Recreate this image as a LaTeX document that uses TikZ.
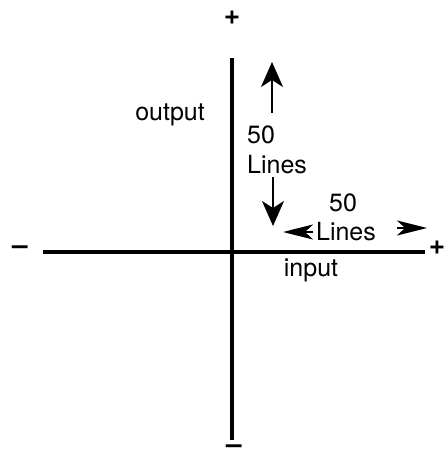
\documentclass[tikz,border=0pt]{standalone}
\usepackage{fontspec}
\setmainfont{TeX Gyre Heros}
\usetikzlibrary{arrows.meta}
\begin{document}
\begin{tikzpicture}[x=1pt,y=-1pt,
  lbl/.style={font=\fontsize{25}{29}\selectfont, inner sep=0pt},
  sign/.style={font=\bfseries\fontsize{28}{30}\selectfont, inner sep=0pt},
  axis/.style={line width=3.5pt},
  dimarrow/.style={line width=2pt, -{Stealth[length=25pt,width=22pt,inset=7pt]}},
  headonly/.style={line width=2pt, -{Stealth[length=30pt,width=15pt,inset=8pt]}}
]
\useasboundingbox (0,0) rectangle (445,463);
% axes
\coordinate (vtop) at (232,58);
\coordinate (vbot) at (232,440);
\coordinate (hleft) at (43,252);
\coordinate (hright) at (425,252);
\draw[axis] (vtop) -- (vbot);
\draw[axis] (hleft) -- (hright);
% signs
\node[sign] (ptop) at (232,18) {+};
\node[sign] (mbot) at (234,449) {–};
\node[sign] (mleft) at (20,250) {–};
\node[sign] (pright) at (437,248) {+};
% labels
\node[lbl] (out) at (170,115) {output};
\node[lbl] (inp) at (311,270) {input};
\node[lbl, anchor=west] (v50) at (247,135) {50};
\node[lbl, anchor=west] (vlines) at (247,165) {Lines};
\node[lbl] (h50) at (343,203) {50};
\node[lbl] (hlines) at (346,232) {Lines};
% vertical dimension arrows
\coordinate (ua) at (272,113);
\coordinate (ub) at (272,62);
\coordinate (da) at (273,177);
\coordinate (db) at (273,226);
\draw[dimarrow] (ua) -- (ub);
\draw[dimarrow] (da) -- (db);
% horizontal dimension arrowheads
\coordinate (la) at (313,232);
\coordinate (lb) at (283,232);
\coordinate (ra) at (397,228);
\coordinate (rb) at (427,228);
\draw[headonly] (la) -- (lb);
\draw[headonly] (ra) -- (rb);
\end{tikzpicture}
\end{document}
